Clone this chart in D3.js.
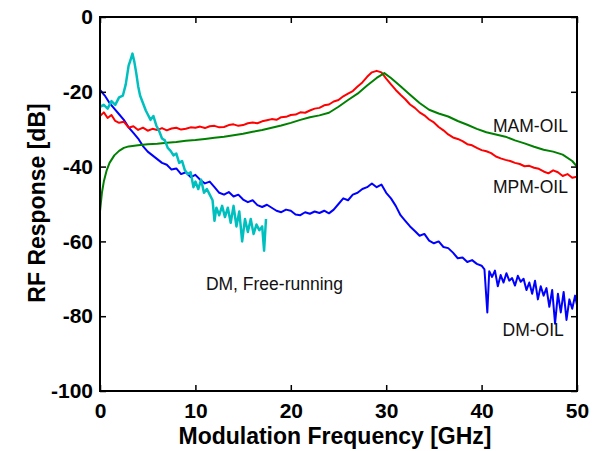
<!DOCTYPE html>
<html>
<head>
<meta charset="utf-8">
<script src="https://cdn.jsdelivr.net/npm/d3@7"></script>
<style>
    body { margin: 0; background: #fff; }
    #chart { width: 600px; height: 451px; }
    text { font-family: "Liberation Sans", Arial, sans-serif; }
</style>
</head>
<body>
<div id="chart"></div>
<script>
(function () {
    // 1. Data: [frequency GHz, response dB]
    const xTicks = [0, 10, 20, 30, 40, 50];
    const yTicks = [0, -20, -40, -60, -80, -100];

    const mpmOil = [
        [0, -26.5], [0.4, -25.5], [0.8, -27], [1.2, -26.2], [1.6, -27.8], [2, -28.3], [2.5, -28],
        [3, -29.6], [3.5, -29.2], [4, -30.2], [4.5, -29.6], [5, -30.4], [5.5, -29.9], [6, -30.2],
        [6.5, -29.7], [7, -30.3], [7.5, -29.8], [8, -29.6], [8.5, -30.1], [9, -29.9], [9.5, -29.5],
        [10, -29.6], [10.5, -29.3], [11, -29.7], [11.5, -29.2], [12, -29.1], [12.5, -29.5], [13, -29.4],
        [13.5, -28.9], [14, -28.7], [14.5, -29.1], [15, -28.9], [15.5, -28.4], [16, -28.2], [16.5, -28.4],
        [17, -27.9], [17.5, -27.6], [18, -27.3], [18.5, -27.5], [19, -26.8], [19.5, -26.7], [20, -26.2],
        [20.5, -26.1], [21, -25.5], [21.5, -25.6], [22, -25], [22.5, -24.5], [23, -24.3], [23.5, -23.6],
        [24, -23.4], [24.5, -22.6], [25, -22.2], [25.5, -21.2], [26, -20.5], [26.5, -19.8], [27, -18.6],
        [27.5, -17.5], [28, -16], [28.5, -14.8], [29, -14.4], [29.5, -14.8], [30, -16.5], [30.5, -18],
        [31, -19.5], [31.5, -20.8], [32, -22], [32.5, -23.4], [33, -24.3], [33.5, -25.5], [34, -26.3],
        [34.5, -27.4], [35, -28.2], [35.5, -29.4], [36, -30.3], [36.5, -31.4], [37, -32.2], [37.5, -32.6],
        [38, -33.2], [38.5, -34], [39, -34.3], [39.5, -35], [40, -35.6], [40.5, -35.9], [41, -36.4],
        [41.5, -37.3], [42, -37.8], [42.5, -38.2], [43, -38.5], [43.5, -39], [44, -39.3], [44.5, -39.9],
        [45, -39.8], [45.5, -40.3], [46, -40.6], [46.5, -41.3], [47, -41.8], [47.5, -41], [48, -41.5],
        [48.5, -42.5], [49, -42], [49.5, -43], [50, -42.7]
    ];

    const mamOil = [
        [0, -52], [0.2, -47], [0.4, -44], [0.7, -41], [1, -39], [1.5, -37], [2, -35.8], [2.5, -35],
        [3, -34.6], [4, -34.3], [5, -34], [6, -33.9], [7, -33.6], [8, -33.4], [9, -33.1], [10, -32.9],
        [11, -32.6], [12, -32.3], [13, -32], [14, -31.6], [15, -31.2], [16, -30.7], [17, -30.2],
        [18, -29.6], [19, -29], [20, -28.3], [21, -27.5], [22, -26.8], [23, -26.3], [24, -25.6],
        [25, -24], [26, -22.2], [27, -20.5], [28, -18.3], [29, -16.3], [29.8, -15], [30.5, -16.3],
        [31.5, -18.5], [32.5, -20.8], [33.5, -23], [34.5, -24.8], [35.5, -25.8], [36.5, -26.6],
        [37.5, -27.8], [38.5, -28.8], [39.5, -29.9], [40.5, -30.8], [41.5, -31.4], [42.5, -32],
        [43.5, -33], [44.5, -33.8], [45.5, -34.7], [46.5, -35.5], [47.5, -36], [48.5, -36.8],
        [49.5, -38.5], [50, -40]
    ];

    const dmOil = [
        [0, -19.5], [0.5, -21], [1, -23], [1.5, -24.5], [2, -26], [2.5, -27.5], [3, -29.5], [3.5, -31],
        [4, -32.5], [4.5, -34.5], [5, -36], [5.5, -37], [6, -38], [6.5, -39], [7, -39.5], [7.5, -40.8],
        [8, -40.5], [8.5, -42], [9, -41.5], [9.5, -42.8], [10, -42.2], [10.5, -43.5], [11, -44.5],
        [11.5, -44], [12, -45.5], [12.5, -47], [13, -47.5], [13.5, -46.8], [14, -48], [14.5, -47.5],
        [15, -48.8], [15.5, -49.5], [16, -49], [16.5, -50.3], [17, -50.8], [17.5, -50.2], [18, -51],
        [18.5, -51.8], [19, -52.2], [19.5, -51.5], [20, -51.8], [20.5, -52.8], [21, -53], [21.5, -52.2],
        [22, -52.6], [22.5, -52], [23, -52.4], [23.5, -51.8], [24, -52.5], [24.5, -51.5], [25, -50],
        [25.5, -48.5], [26, -49], [26.5, -47.5], [27, -47], [27.5, -46], [28, -45.5], [28.5, -44.5],
        [29, -45.5], [29.5, -44.8], [30, -47], [30.5, -48.5], [31, -50.5], [31.5, -53], [32, -54.5],
        [32.5, -56], [33, -57.2], [33.5, -58.5], [34, -58], [34.5, -59.8], [35, -60.5], [35.5, -60],
        [36, -61.5], [36.5, -61.8], [37, -63], [37.5, -64.5], [38, -64.3], [38.5, -65.5], [39, -65],
        [39.5, -66], [40, -66.5], [40.3, -67.5], [40.6, -79], [40.8, -68], [41.1, -69.5], [41.4, -67.8],
        [41.7, -72], [42, -69], [42.3, -71], [42.6, -68.5], [42.9, -70.5], [43.2, -69.8], [43.5, -71.8],
        [43.8, -69.2], [44.1, -70.8], [44.4, -70], [44.7, -73], [45, -71], [45.3, -74], [45.6, -70.5],
        [45.9, -75.5], [46.2, -72], [46.5, -74.5], [46.8, -72.5], [47.1, -77.5], [47.4, -73], [47.7, -82],
        [48, -74], [48.3, -79], [48.6, -73.5], [48.9, -81], [49.2, -75.5], [49.5, -78], [49.8, -74.5],
        [50, -77]
    ];

    const dmFree = [
        [0, -24], [0.4, -23.5], [0.8, -24.5], [1.2, -22.5], [1.6, -23.5], [2, -21.5], [2.4, -21],
        [2.7, -18], [3, -13], [3.2, -11.5], [3.4, -9.8], [3.6, -12], [3.8, -15], [4, -18.5], [4.2, -21],
        [4.5, -23], [4.8, -25], [5, -26], [5.3, -27.5], [5.6, -26.5], [5.9, -29], [6.2, -30.5],
        [6.5, -32.5], [6.8, -33], [7.1, -35], [7.4, -35.8], [7.7, -37], [8, -36.5], [8.3, -39],
        [8.6, -38.5], [8.9, -41], [9.2, -42], [9.5, -41.5], [9.8, -45.5], [10, -44], [10.3, -46],
        [10.6, -43.5], [10.9, -47], [11.2, -46], [11.5, -47.5], [11.8, -49], [12, -54.5], [12.2, -51],
        [12.5, -53], [12.8, -50.5], [13.1, -53.5], [13.4, -51], [13.7, -55], [14, -50.5], [14.3, -56],
        [14.6, -52], [14.9, -60], [15.2, -54], [15.5, -57.5], [15.8, -54], [16.1, -58], [16.4, -55.5],
        [16.7, -57], [17, -56], [17.2, -62.5], [17.4, -54]
    ];

    const seriesList = [
        { name: "DM-OIL", values: dmOil, color: "#0000ff", w: 2 },
        { name: "MPM-OIL", values: mpmOil, color: "#ff0000", w: 2 },
        { name: "MAM-OIL", values: mamOil, color: "#008000", w: 2 },
        { name: "DM, Free-running", values: dmFree, color: "#00bfbf", w: 2.5 }
    ];

    // 2. Dimensions
    const fullW = 600, fullH = 451;
    const margin = { top: 17, right: 23, bottom: 60, left: 100 };
    const width = fullW - margin.left - margin.right;
    const height = fullH - margin.top - margin.bottom;

    const svg = d3.select("#chart")
        .append("svg")
        .attr("width", fullW)
        .attr("height", fullH)
        .append("g")
        .attr("transform", `translate(${margin.left},${margin.top})`);

    // 3. Scales
    const x = d3.scaleLinear().domain([0, 50]).range([0, width]);
    const y = d3.scaleLinear().domain([-100, 0]).range([height, 0]);

    svg.append("clipPath").attr("id", "plot-clip")
        .append("rect").attr("width", width).attr("height", height);

    // 4. Lines
    const line = d3.line()
        .x(d => x(d[0]))
        .y(d => y(d[1]));

    svg.append("g")
        .attr("clip-path", "url(#plot-clip)")
        .selectAll("path")
        .data(seriesList)
        .enter().append("path")
        .attr("fill", "none")
        .attr("stroke", d => d.color)
        .attr("stroke-width", d => d.w)
        .attr("stroke-linejoin", "round")
        .attr("d", d => line(d.values));

    // 5. Axes (ticks pointing inward, mirrored on top and right)
    const tickFont = 21;
    const plainNum = d => String(d); // plain hyphen-minus like the original

    const bottomAxis = svg.append("g")
        .attr("transform", `translate(0,${height})`)
        .call(d3.axisBottom(x).tickValues(xTicks).tickFormat(plainNum)
            .tickSizeInner(-6).tickSizeOuter(0).tickPadding(12));

    const leftAxis = svg.append("g")
        .call(d3.axisLeft(y).tickValues(yTicks).tickFormat(plainNum)
            .tickSizeInner(-6).tickSizeOuter(0).tickPadding(7));

    svg.append("g")
        .call(d3.axisTop(x).tickValues(xTicks).tickSizeInner(-6).tickSizeOuter(0).tickFormat(""));

    svg.append("g")
        .attr("transform", `translate(${width},0)`)
        .call(d3.axisRight(y).tickValues(yTicks).tickSizeInner(-6).tickSizeOuter(0).tickFormat(""));

    svg.selectAll(".domain").remove();
    svg.selectAll(".tick line").attr("stroke", "#000").attr("stroke-width", 1.5);

    [bottomAxis, leftAxis].forEach(g => {
        g.selectAll(".tick text")
            .attr("fill", "#000")
            .style("font-size", tickFont + "px")
            .style("font-weight", "bold")
            .style("font-family", "'Liberation Sans', Arial, sans-serif");
    });

    // Frame
    svg.append("rect")
        .attr("width", width)
        .attr("height", height)
        .attr("fill", "none")
        .attr("stroke", "#000")
        .attr("stroke-width", 2);

    // 6. Axis titles
    svg.append("text")
        .attr("x", 335 - margin.left)
        .attr("y", 444 - margin.top)
        .attr("text-anchor", "middle")
        .style("font-size", "23px")
        .style("font-weight", "bold")
        .text("Modulation Frequency [GHz]");

    svg.append("text")
        .attr("transform", `translate(${45 - margin.left},${203 - margin.top}) rotate(-90)`)
        .attr("text-anchor", "middle")
        .style("font-size", "23px")
        .style("font-weight", "bold")
        .text("RF Response [dB]");

    // 7. Curve labels
    const labels = [
        { text: "MAM-OIL", gx: 41.2, db: -30.7 },
        { text: "MPM-OIL", gx: 41.2, db: -47 },
        { text: "DM-OIL", gx: 42.2, db: -85.3 },
        { text: "DM, Free-running", gx: 11.1, db: -73.1 }
    ];

    svg.selectAll(".curve-label")
        .data(labels)
        .enter().append("text")
        .attr("class", "curve-label")
        .attr("x", d => x(d.gx))
        .attr("y", d => y(d.db))
        .attr("fill", "#111")
        .style("font-size", "17.5px")
        .text(d => d.text);
})();
</script>
</body>
</html>
